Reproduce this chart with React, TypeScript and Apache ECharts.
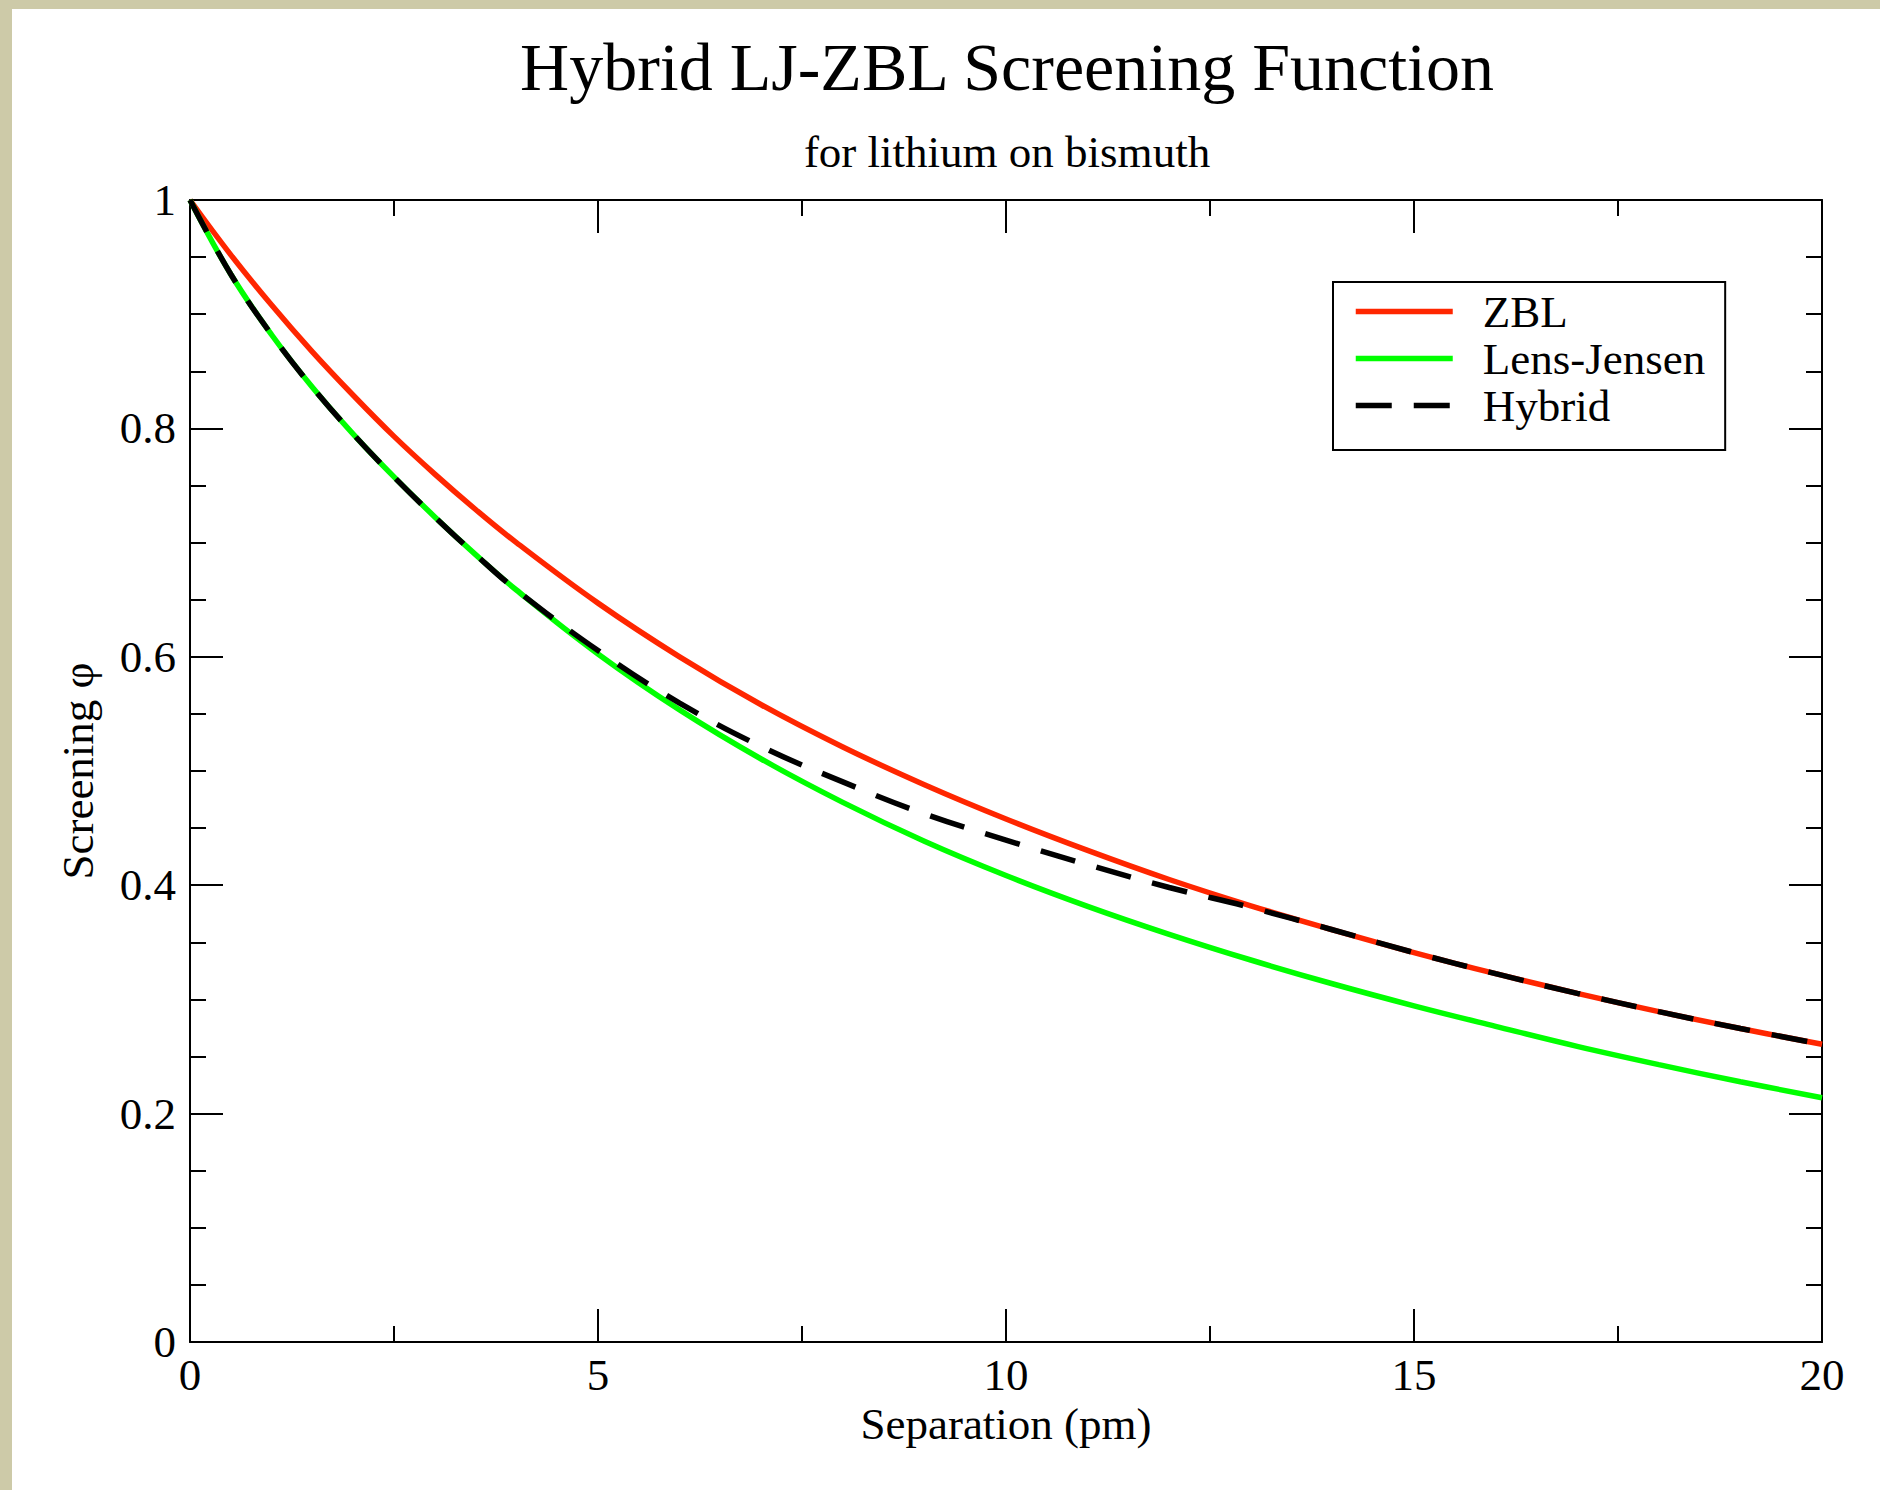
import React, { useEffect, useRef } from "react";
import * as echarts from "echarts";

// Separation (pm) at which each curve was read
const separation = [0, 0.5, 1, 1.5, 2, 2.5, 3, 3.5, 4, 5, 6, 7, 8, 9, 10, 11, 12, 13, 14, 15, 16, 17, 18, 19, 20];
// Screening function values
const zbl = [1.0, 0.952, 0.908, 0.867, 0.829, 0.793, 0.76, 0.729, 0.7, 0.647, 0.6, 0.558, 0.521, 0.488, 0.458, 0.4305, 0.405, 0.382, 0.361, 0.341, 0.3225, 0.3053, 0.2893, 0.2745, 0.2607];
const lensJensen = [1.0, 0.935, 0.882, 0.836, 0.795, 0.7575, 0.7225, 0.6895, 0.6585, 0.6025, 0.5535, 0.5105, 0.4725, 0.4385, 0.4085, 0.3815, 0.357, 0.3345, 0.3137, 0.2944, 0.2764, 0.2589, 0.2429, 0.2279, 0.2139];
const hybrid = [1.0, 0.935, 0.882, 0.836, 0.795, 0.7575, 0.7225, 0.6895, 0.6585, 0.6055, 0.5595, 0.5215, 0.4905, 0.4625, 0.4395, 0.418, 0.398, 0.3805, 0.361, 0.341, 0.3225, 0.3053, 0.2893, 0.2745, 0.2607];

const seriesNames = ["ZBL", "Lens-Jensen", "Hybrid"];
const titleText = "Hybrid LJ-ZBL Screening Function";
const subtitleText = "for lithium on bismuth";
const xName = "Separation (pm)";
const yName = "Screening \u03c6";

export default function App() {
  const ref = useRef<HTMLDivElement>(null);

  useEffect(() => {
    if (!ref.current) return;
    const chart = echarts.init(ref.current, null, { renderer: "svg" });
    const font = "'Liberation Serif', 'Times New Roman', serif";
    const pair = (ys: number[]) => separation.map((x, i) => [x, ys[i]]);
    const black = "#000000";
    const axisLine = { show: true, onZero: false, lineStyle: { color: black, width: 2 } };
    const majorTick = { show: true, inside: true, length: 33, lineStyle: { color: black, width: 2 } };
    const minorTickX = { show: true, splitNumber: 2, length: 16, lineStyle: { color: black, width: 2 } };
    const minorTickY = { show: true, splitNumber: 4, length: 16, lineStyle: { color: black, width: 2 } };
    const labelStyle = { color: black, fontFamily: font, fontSize: 45 };
    const lw = 5.5;

    chart.setOption({
      animation: false,
      backgroundColor: "#ffffff",
      textStyle: { fontFamily: font },
      title: [
        {
          text: titleText,
          left: 995,
          top: 24,
          textAlign: "center",
          padding: 0,
          textStyle: { fontFamily: font, fontSize: 68, fontWeight: "normal", color: black },
        },
        {
          text: subtitleText,
          left: 995,
          top: 120,
          textAlign: "center",
          padding: 0,
          textStyle: { fontFamily: font, fontSize: 45, fontWeight: "normal", color: black },
        },
      ],
      legend: {
        orient: "vertical",
        left: 1321,
        top: 273,
        itemWidth: 97,
        itemHeight: 14,
        itemGap: 2,
        padding: [7, 20, 22, 20],
        borderColor: black,
        borderWidth: 2,
        borderRadius: 0,
        backgroundColor: "#ffffff",
        selectedMode: false,
        data: seriesNames,
        itemStyle: { opacity: 0 },
        lineStyle: { width: lw },
        textStyle: { fontFamily: font, fontSize: 45, color: black, padding: [0, 0, 0, 25] },
      },
      grid: { left: 178, top: 191, width: 1632, height: 1142, containLabel: false },
      xAxis: [
        {
          type: "value",
          position: "bottom",
          min: 0,
          max: 20,
          interval: 5,
          name: xName,
          nameLocation: "middle",
          nameGap: 59,
          nameTextStyle: labelStyle,
          axisLine,
          axisTick: majorTick,
          minorTick: minorTickX,
          axisLabel: { ...labelStyle, margin: 10 },
          splitLine: { show: false },
          minorSplitLine: { show: false },
        },
        {
          type: "value",
          position: "top",
          min: 0,
          max: 20,
          interval: 5,
          axisLine,
          axisTick: majorTick,
          minorTick: minorTickX,
          axisLabel: { show: false },
          splitLine: { show: false },
          minorSplitLine: { show: false },
        },
      ],
      yAxis: [
        {
          type: "value",
          position: "left",
          min: 0,
          max: 1,
          interval: 0.2,
          name: yName,
          nameLocation: "middle",
          nameRotate: 90,
          nameGap: 90,
          nameTextStyle: labelStyle,
          axisLine,
          axisTick: majorTick,
          minorTick: minorTickY,
          axisLabel: { ...labelStyle, margin: 14 },
          splitLine: { show: false },
          minorSplitLine: { show: false },
        },
        {
          type: "value",
          position: "right",
          min: 0,
          max: 1,
          interval: 0.2,
          axisLine,
          axisTick: majorTick,
          minorTick: minorTickY,
          axisLabel: { show: false },
          splitLine: { show: false },
          minorSplitLine: { show: false },
        },
      ],
      series: [
        {
          name: seriesNames[0],
          type: "line",
          xAxisIndex: 0,
          yAxisIndex: 0,
          data: pair(zbl),
          symbol: "none",
          showSymbol: false,
          smooth: 0.4,
          lineStyle: { color: "#ff2600", width: lw },
          itemStyle: { color: "#ff2600" },
        },
        {
          name: seriesNames[1],
          type: "line",
          xAxisIndex: 0,
          yAxisIndex: 0,
          data: pair(lensJensen),
          symbol: "none",
          showSymbol: false,
          smooth: 0.4,
          lineStyle: { color: "#00ff00", width: lw },
          itemStyle: { color: "#00ff00" },
        },
        {
          name: seriesNames[2],
          type: "line",
          xAxisIndex: 0,
          yAxisIndex: 0,
          data: pair(hybrid),
          symbol: "none",
          showSymbol: false,
          smooth: 0.4,
          lineStyle: { color: black, width: lw, type: [36, 22], cap: "butt" },
          itemStyle: { color: black },
        },
      ],
    });
    return () => chart.dispose();
  }, []);

  return (
    <div
      style={{
        position: "fixed",
        left: 0,
        top: 0,
        width: 1880,
        height: 1490,
        background: "#cdcaa8",
      }}
    >
      <div
        ref={ref}
        style={{ position: "absolute", left: 12, top: 9, width: 1868, height: 1481, background: "#ffffff" }}
      />
    </div>
  );
}
